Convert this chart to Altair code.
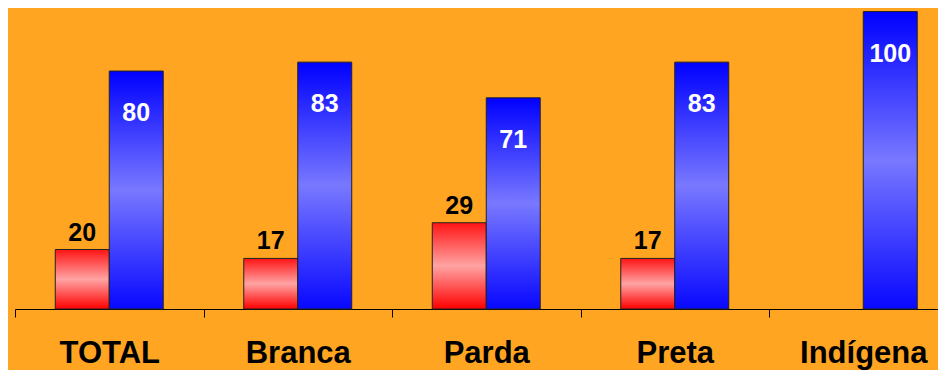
import altair as alt
import pandas as pd

# --- data ---
categorias = ["TOTAL", "Branca", "Parda", "Preta", "Indígena"]
categorias_vermelho = ["TOTAL", "Branca", "Parda", "Preta"]  # no red bar for Indígena
valores_vermelho = [20, 17, 29, 17]
valores_azul = [80, 83, 71, 83, 100]
series = ["vermelho", "azul"]

df_r = pd.DataFrame({"cat": categorias_vermelho, "valor": valores_vermelho, "serie": series[0]})
df_b = pd.DataFrame({"cat": categorias, "valor": valores_azul, "serie": series[1]})

FONT = "Liberation Sans"
BG = "#FFA521"

x = alt.X(
    "cat:N",
    sort=categorias,
    scale=alt.Scale(domain=categorias, range=[0, 942.5], paddingInner=0, paddingOuter=0),
    axis=alt.Axis(
        title=None, labelAngle=0, tickBand="extent", tickSize=8, tickColor="black",
        tickWidth=1, domainColor="black", domainWidth=1, labelFont=FONT,
        labelFontWeight="bold", labelFontSize=31, labelColor="black",
        labelPadding=21, labelOverlap=False, grid=False,
    ),
)
xo = alt.XOffset(
    "serie:N",
    scale=alt.Scale(domain=series, paddingInner=0, paddingOuter=0.746),
)
y = alt.Y("valor:Q", scale=alt.Scale(domain=[0, 101.2], nice=False, zero=True), axis=None)

grad_r = alt.Gradient(
    gradient="linear", x1=0, y1=0, x2=0, y2=1,
    stops=[
        alt.GradientStop(color="#FF1414", offset=0),
        alt.GradientStop(color="#FFA3A3", offset=0.5),
        alt.GradientStop(color="#FF0000", offset=1),
    ],
)
grad_b = alt.Gradient(
    gradient="linear", x1=0, y1=0, x2=0, y2=1,
    stops=[
        alt.GradientStop(color="#0000FF", offset=0),
        alt.GradientStop(color="#7878FF", offset=0.5),
        alt.GradientStop(color="#0808FF", offset=1),
    ],
)

bars_r = alt.Chart(df_r).mark_bar(fill=grad_r, stroke="#222222", strokeWidth=1).encode(x=x, xOffset=xo, y=y)
bars_b = alt.Chart(df_b).mark_bar(fill=grad_b, stroke="#222222", strokeWidth=1).encode(x=x, xOffset=xo, y=y)

text_r = alt.Chart(df_r).mark_text(
    font=FONT, fontWeight="bold", fontSize=25, color="black", baseline="alphabetic", dy=-9
).encode(x=x, xOffset=xo, y=y, text="valor:Q")
text_b = alt.Chart(df_b).mark_text(
    font=FONT, fontWeight="bold", fontSize=25, color="white", baseline="middle", dy=42
).encode(x=x, xOffset=xo, y=y, text="valor:Q")

chart = (
    alt.layer(bars_r, bars_b, text_r, text_b)
    .properties(
        width=923, height=301,
        padding={"left": 7, "top": 0, "right": 0, "bottom": 61},
        autosize=alt.AutoSizeParams(type="none"),
        background=BG,
    )
    .configure_view(strokeWidth=0)
)

chart.save("out.html", embed_options={"renderer": "svg", "actions": False})
